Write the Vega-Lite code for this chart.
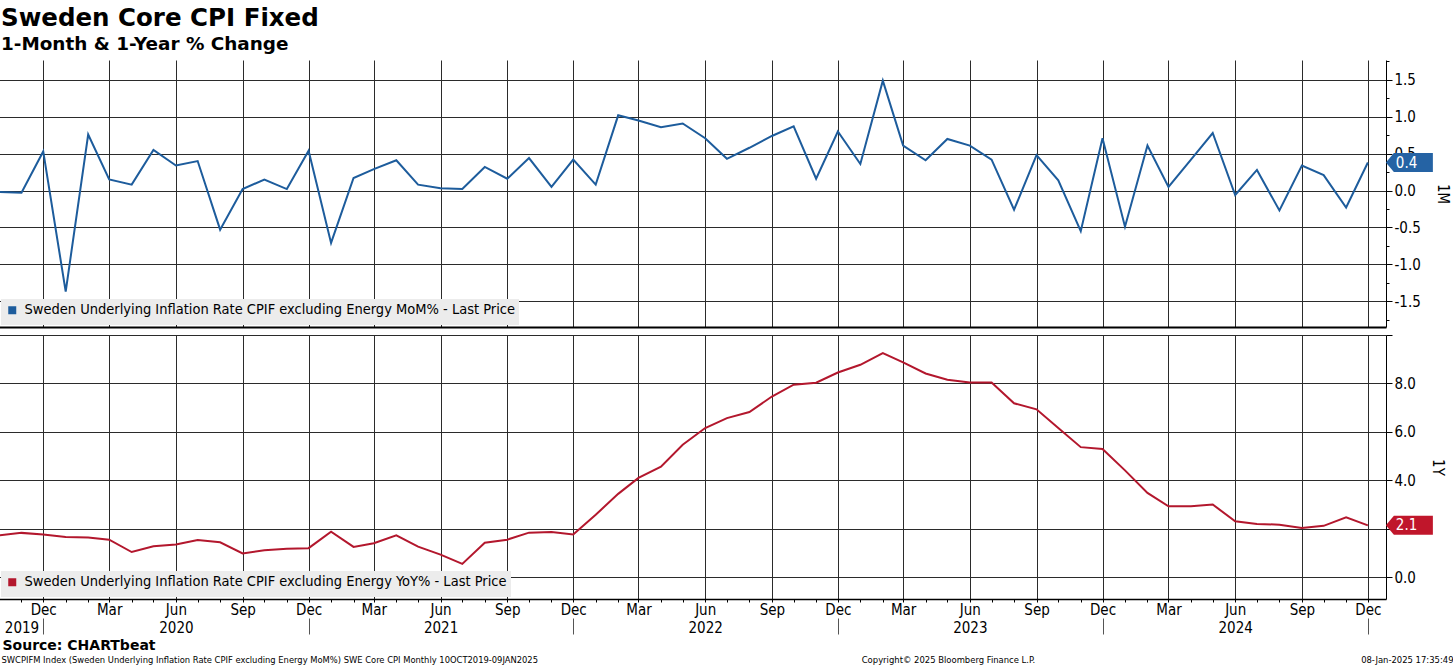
{
  "$schema": "https://vega.github.io/schema/vega-lite/v6.json",
  "padding": {"left": -5, "top": 6, "right": 0, "bottom": 0},
  "background": "white",
  "config": {
    "font": "DejaVu Sans Condensed, DejaVu Sans",
    "view": {"stroke": null},
    "axis": {
      "labelFont": "DejaVu Sans Condensed, DejaVu Sans",
      "labelColor": "#000",
      "labelFontSize": 15,
      "gridColor": "#2b2b2b",
      "gridWidth": 1,
      "domainColor": "#000",
      "tickColor": "#000",
      "titleColor": "#000",
      "titleFont": "DejaVu Sans Condensed, DejaVu Sans",
      "titleFontWeight": "normal"
    },
    "legend": {
      "labelFont": "DejaVu Sans Condensed, DejaVu Sans",
      "labelColor": "#000"
    }
  },
  "datasets": {
    "mom": [
      {"date": "2019-10-01", "value": -0.02},
      {"date": "2019-11-01", "value": -0.03},
      {"date": "2019-12-01", "value": 0.53},
      {"date": "2020-01-01", "value": -1.37},
      {"date": "2020-02-01", "value": 0.76},
      {"date": "2020-03-01", "value": 0.15},
      {"date": "2020-04-01", "value": 0.08},
      {"date": "2020-05-01", "value": 0.55},
      {"date": "2020-06-01", "value": 0.34},
      {"date": "2020-07-01", "value": 0.40},
      {"date": "2020-08-01", "value": -0.53},
      {"date": "2020-09-01", "value": 0.02},
      {"date": "2020-10-01", "value": 0.15},
      {"date": "2020-11-01", "value": 0.02},
      {"date": "2020-12-01", "value": 0.54},
      {"date": "2021-01-01", "value": -0.71},
      {"date": "2021-02-01", "value": 0.17},
      {"date": "2021-03-01", "value": 0.29},
      {"date": "2021-04-01", "value": 0.41},
      {"date": "2021-05-01", "value": 0.08},
      {"date": "2021-06-01", "value": 0.03},
      {"date": "2021-07-01", "value": 0.02},
      {"date": "2021-08-01", "value": 0.32},
      {"date": "2021-09-01", "value": 0.16},
      {"date": "2021-10-01", "value": 0.44},
      {"date": "2021-11-01", "value": 0.05},
      {"date": "2021-12-01", "value": 0.42},
      {"date": "2022-01-01", "value": 0.08},
      {"date": "2022-02-01", "value": 1.02},
      {"date": "2022-03-01", "value": 0.95},
      {"date": "2022-04-01", "value": 0.86},
      {"date": "2022-05-01", "value": 0.91},
      {"date": "2022-06-01", "value": 0.71},
      {"date": "2022-07-01", "value": 0.43},
      {"date": "2022-08-01", "value": 0.58},
      {"date": "2022-09-01", "value": 0.74},
      {"date": "2022-10-01", "value": 0.87},
      {"date": "2022-11-01", "value": 0.16},
      {"date": "2022-12-01", "value": 0.80},
      {"date": "2023-01-01", "value": 0.36},
      {"date": "2023-02-01", "value": 1.49},
      {"date": "2023-03-01", "value": 0.61},
      {"date": "2023-04-01", "value": 0.41},
      {"date": "2023-05-01", "value": 0.70},
      {"date": "2023-06-01", "value": 0.61},
      {"date": "2023-07-01", "value": 0.42},
      {"date": "2023-08-01", "value": -0.26},
      {"date": "2023-09-01", "value": 0.48},
      {"date": "2023-10-01", "value": 0.14},
      {"date": "2023-11-01", "value": -0.55},
      {"date": "2023-12-01", "value": 0.71},
      {"date": "2024-01-01", "value": -0.49},
      {"date": "2024-02-01", "value": 0.61},
      {"date": "2024-03-01", "value": 0.05},
      {"date": "2024-04-01", "value": 0.42},
      {"date": "2024-05-01", "value": 0.78},
      {"date": "2024-06-01", "value": -0.06},
      {"date": "2024-07-01", "value": 0.28},
      {"date": "2024-08-01", "value": -0.27},
      {"date": "2024-09-01", "value": 0.34},
      {"date": "2024-10-01", "value": 0.21},
      {"date": "2024-11-01", "value": -0.23},
      {"date": "2024-12-01", "value": 0.38}
    ],
    "yoy": [
      {"date": "2019-10-01", "value": 1.73},
      {"date": "2019-11-01", "value": 1.83},
      {"date": "2019-12-01", "value": 1.76},
      {"date": "2020-01-01", "value": 1.66},
      {"date": "2020-02-01", "value": 1.64},
      {"date": "2020-03-01", "value": 1.55},
      {"date": "2020-04-01", "value": 1.04},
      {"date": "2020-05-01", "value": 1.28},
      {"date": "2020-06-01", "value": 1.35},
      {"date": "2020-07-01", "value": 1.54},
      {"date": "2020-08-01", "value": 1.44},
      {"date": "2020-09-01", "value": 0.98},
      {"date": "2020-10-01", "value": 1.11},
      {"date": "2020-11-01", "value": 1.17},
      {"date": "2020-12-01", "value": 1.20},
      {"date": "2021-01-01", "value": 1.88},
      {"date": "2021-02-01", "value": 1.25},
      {"date": "2021-03-01", "value": 1.40},
      {"date": "2021-04-01", "value": 1.73},
      {"date": "2021-05-01", "value": 1.26},
      {"date": "2021-06-01", "value": 0.93},
      {"date": "2021-07-01", "value": 0.55},
      {"date": "2021-08-01", "value": 1.42},
      {"date": "2021-09-01", "value": 1.55},
      {"date": "2021-10-01", "value": 1.84},
      {"date": "2021-11-01", "value": 1.87},
      {"date": "2021-12-01", "value": 1.76},
      {"date": "2022-01-01", "value": 2.58},
      {"date": "2022-02-01", "value": 3.44},
      {"date": "2022-03-01", "value": 4.10},
      {"date": "2022-04-01", "value": 4.56},
      {"date": "2022-05-01", "value": 5.47},
      {"date": "2022-06-01", "value": 6.16},
      {"date": "2022-07-01", "value": 6.57},
      {"date": "2022-08-01", "value": 6.82},
      {"date": "2022-09-01", "value": 7.46},
      {"date": "2022-10-01", "value": 7.95},
      {"date": "2022-11-01", "value": 8.03},
      {"date": "2022-12-01", "value": 8.45},
      {"date": "2023-01-01", "value": 8.77},
      {"date": "2023-02-01", "value": 9.25},
      {"date": "2023-03-01", "value": 8.87},
      {"date": "2023-04-01", "value": 8.41},
      {"date": "2023-05-01", "value": 8.15},
      {"date": "2023-06-01", "value": 8.04},
      {"date": "2023-07-01", "value": 8.04},
      {"date": "2023-08-01", "value": 7.18},
      {"date": "2023-09-01", "value": 6.93},
      {"date": "2023-10-01", "value": 6.16},
      {"date": "2023-11-01", "value": 5.37},
      {"date": "2023-12-01", "value": 5.29},
      {"date": "2024-01-01", "value": 4.41},
      {"date": "2024-02-01", "value": 3.48},
      {"date": "2024-03-01", "value": 2.93},
      {"date": "2024-04-01", "value": 2.93},
      {"date": "2024-05-01", "value": 3.00},
      {"date": "2024-06-01", "value": 2.31},
      {"date": "2024-07-01", "value": 2.20},
      {"date": "2024-08-01", "value": 2.17},
      {"date": "2024-09-01", "value": 2.03},
      {"date": "2024-10-01", "value": 2.12},
      {"date": "2024-11-01", "value": 2.47},
      {"date": "2024-12-01", "value": 2.14}
    ]
  },
  "resolve": {
    "scale": {"x": "independent", "y": "independent", "color": "independent"},
    "legend": {"color": "independent"}
  },
  "spacing": 1,
  "vconcat": [
    {
      "width": 1387,
      "height": 267,
      "title": {
        "text": "Sweden Core CPI Fixed",
        "subtitle": "1-Month & 1-Year % Change",
        "anchor": "start",
        "dx": 6,
        "font": "DejaVu Sans",
        "fontSize": 24.5,
        "fontWeight": "bold",
        "color": "#000",
        "subtitleFont": "DejaVu Sans",
        "subtitleFontSize": 18.4,
        "subtitleFontWeight": "bold",
        "subtitleColor": "#000",
        "subtitlePadding": 3,
        "offset": 6
      },
      "data": {"name": "mom"},
      "resolve": {"axis": {"y": "independent"}},
      "layer": [
        {
          "mark": {"type": "line", "strokeWidth": 2},
          "encoding": {
            "x": {
              "field": "date",
              "type": "temporal",
              "scale": {"domain": [{"year": 2019, "month": 10, "date": 1}, {"year": 2024, "month": 12, "date": 26}]},
              "axis": {
                "orient": "bottom",
                "title": null,
                "tickCount": {"interval": "month", "step": 1},
                "grid": true,
                "gridOpacity": {"condition": {"test": "month(datum.value) % 3 == 2", "value": 1}, "value": 0},
                "labels": false,
                "ticks": false,
                "domain": true,
                "domainWidth": 2
              }
            },
            "y": {
              "field": "value",
              "type": "quantitative",
              "scale": {"domain": [-1.85, 1.77], "nice": false, "zero": false},
              "axis": {
                "orient": "right",
                "title": "1M",
                "titleFontSize": 15,
                "titlePadding": 14,
                "values": [-1.5, -1, -0.5, 0, 0.5, 1, 1.5],
                "labelExpr": "replace(format(datum.value, '.1f'), '−', '-')",
                "tickSize": 6,
                "grid": true,
                "labelPadding": 2,
                "labelOverlap": false,
                "labelBaseline": "middle"
              }
            },
            "color": {
              "datum": "Sweden Underlying Inflation Rate CPIF excluding Energy MoM% - Last Price",
              "type": "nominal",
              "scale": {"range": ["#1d5c9c"]},
              "legend": {
                "title": null,
                "orient": "bottom-left",
                "offset": 2,
                "fillColor": "#ececec",
                "padding": 4,
                "symbolType": "square",
                "symbolSize": 16,
                "symbolStrokeWidth": 4,
                "labelOffset": 5,
                "labelFontSize": 14.5,
                "labelLimit": 800
              }
            }
          }
        },
        {
          "mark": {"type": "line", "strokeOpacity": 0},
          "encoding": {
            "x": {"field": "date", "type": "temporal"},
            "y": {
              "field": "value",
              "type": "quantitative",
              "axis": {
                "orient": "right",
                "title": null,
                "values": [-1.75, -1.25, -0.75, -0.25, 0.25, 0.75, 1.25, 1.75],
                "labels": false,
                "grid": false,
                "domain": false,
                "tickSize": 3
              }
            }
          }
        },
        {
          "transform": [{"filter": "time(datum.date) > time(datetime(2024, 10, 15))"}],
          "mark": {"type": "point", "shape": "M1.8,0L2.6,-0.95L6.5,-0.95L6.5,0.95L2.6,0.95Z", "size": 400, "filled": true, "color": "#2563a4", "opacity": 1, "clip": false},
          "encoding": {
            "x": {"field": "date", "type": "temporal"},
            "y": {"field": "value", "type": "quantitative", "axis": null}
          }
        },
        {
          "transform": [{"filter": "time(datum.date) > time(datetime(2024, 10, 15))"}],
          "mark": {"type": "text", "align": "left", "baseline": "middle", "dx": 28, "fontSize": 15, "color": "white"},
          "encoding": {
            "x": {"field": "date", "type": "temporal"},
            "y": {"field": "value", "type": "quantitative", "axis": null},
            "text": {"field": "value", "type": "quantitative", "format": ".1f"}
          }
        }
      ]
    },
    {
      "width": 1387,
      "height": 264,
      "data": {"name": "yoy"},
      "resolve": {"axis": {"x": "independent"}},
      "layer": [
        {
          "mark": {"type": "line", "strokeWidth": 2},
          "encoding": {
            "x": {
              "field": "date",
              "type": "temporal",
              "scale": {"domain": [{"year": 2019, "month": 10, "date": 1}, {"year": 2024, "month": 12, "date": 26}]},
              "axis": {
                "orient": "bottom",
                "title": "Source: CHARTbeat",
                "titleX": 3,
                "titleY": 50,
                "titleAlign": "left",
                "titleBaseline": "alphabetic",
                "titleFont": "DejaVu Sans",
                "titleFontSize": 14,
                "titleFontWeight": "bold",
                "tickCount": {"interval": "month", "step": 1},
                "grid": true,
                "gridOpacity": {"condition": {"test": "month(datum.value) % 3 == 2", "value": 1}, "value": 0},
                "labelExpr": "month(datum.value) % 3 == 2 ? timeFormat(datum.value, '%b') : ''",
                "tickSize": 3,
                "labelPadding": 0,
                "labelOverlap": false,
                "labelFlush": false,
                "domainWidth": 1.5
              }
            },
            "y": {
              "field": "value",
              "type": "quantitative",
              "scale": {"domain": [-0.9, 10], "nice": false, "zero": false},
              "axis": {
                "orient": "right",
                "title": "1Y",
                "titleFontSize": 15,
                "titlePadding": 14,
                "values": [0, 1, 2, 3, 4, 5, 6, 7, 8, 9, 10],
                "labelExpr": "datum.value % 2 == 0 && datum.value < 10 ? format(datum.value, '.1f') : ''",
                "tickSize": {"condition": {"test": "datum.value % 2 == 0", "value": 6}, "value": 3},
                "gridOpacity": {"condition": {"test": "datum.value % 2 == 0", "value": 1}, "value": 0},
                "labelPadding": 2,
                "labelOverlap": false,
                "labelBaseline": "middle"
              }
            },
            "color": {
              "datum": "Sweden Underlying Inflation Rate CPIF excluding Energy YoY% - Last Price",
              "type": "nominal",
              "scale": {"range": ["#b3172d"]},
              "legend": {
                "title": null,
                "orient": "bottom-left",
                "offset": 2,
                "fillColor": "#ececec",
                "padding": 4,
                "symbolType": "square",
                "symbolSize": 16,
                "symbolStrokeWidth": 4,
                "labelOffset": 5,
                "labelFontSize": 14.5,
                "labelLimit": 800
              }
            }
          }
        },
        {
          "mark": {"type": "line", "strokeOpacity": 0},
          "encoding": {
            "x": {
              "field": "date",
              "type": "temporal",
              "axis": {
                "orient": "bottom",
                "offset": 19,
                "title": "08-Jan-2025 17:35:49",
                "titleX": 1454,
                "titleY": 44,
                "titleAlign": "right",
                "titleBaseline": "alphabetic",
                "titleFontSize": 9.4,
                "tickCount": {"interval": "month", "step": 1},
                "domain": false,
                "grid": false,
                "ticks": true,
                "tickSize": 16,
                "tickColor": "#555",
                "tickOpacity": {"condition": {"test": "month(datum.value) == 11", "value": 1}, "value": 0},
                "labelExpr": "month(datum.value) == 5 || (year(datum.value) == 2019 && month(datum.value) == 10) ? timeFormat(datum.value, '%Y') : ''",
                "labelPadding": -14,
                "labelOverlap": false,
                "labelFlush": false
              }
            },
            "y": {"field": "value", "type": "quantitative"}
          }
        },
        {
          "mark": {"type": "line", "strokeOpacity": 0},
          "encoding": {
            "x": {
              "field": "date",
              "type": "temporal",
              "axis": {
                "orient": "bottom",
                "offset": 19,
                "title": "Copyright© 2025 Bloomberg Finance L.P.",
                "titleX": 949,
                "titleY": 44,
                "titleAlign": "center",
                "titleBaseline": "alphabetic",
                "titleFontSize": 9.4,
                "domain": false,
                "grid": false,
                "ticks": false,
                "labels": false
              }
            },
            "y": {"field": "value", "type": "quantitative"}
          }
        },
        {
          "mark": {"type": "line", "strokeOpacity": 0},
          "encoding": {
            "x": {
              "field": "date",
              "type": "temporal",
              "axis": {
                "orient": "bottom",
                "offset": 19,
                "title": "SWCPIFM Index (Sweden Underlying Inflation Rate CPIF excluding Energy MoM%) SWE Core CPI  Monthly 10OCT2019-09JAN2025",
                "titleX": 2,
                "titleY": 44,
                "titleAlign": "left",
                "titleBaseline": "alphabetic",
                "titleFontSize": 9.3,
                "domain": false,
                "grid": false,
                "ticks": false,
                "labels": false
              }
            },
            "y": {"field": "value", "type": "quantitative"}
          }
        },
        {
          "transform": [{"filter": "time(datum.date) > time(datetime(2024, 10, 15))"}],
          "mark": {"type": "point", "shape": "M1.8,0L2.6,-0.95L6.5,-0.95L6.5,0.95L2.6,0.95Z", "size": 400, "filled": true, "color": "#c0162b", "opacity": 1, "clip": false},
          "encoding": {
            "x": {"field": "date", "type": "temporal", "axis": null},
            "y": {"field": "value", "type": "quantitative"}
          }
        },
        {
          "transform": [{"filter": "time(datum.date) > time(datetime(2024, 10, 15))"}],
          "mark": {"type": "text", "align": "left", "baseline": "middle", "dx": 28, "fontSize": 15, "color": "white"},
          "encoding": {
            "x": {"field": "date", "type": "temporal", "axis": null},
            "y": {"field": "value", "type": "quantitative"},
            "text": {"field": "value", "type": "quantitative", "format": ".1f"}
          }
        }
      ]
    }
  ]
}
